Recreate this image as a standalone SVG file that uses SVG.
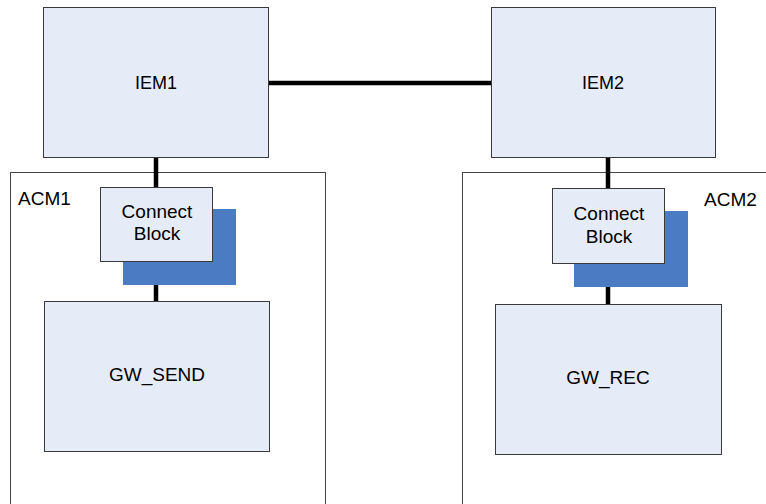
<svg xmlns="http://www.w3.org/2000/svg" width="766" height="504" viewBox="0 0 766 504">
<style>
.box{fill:#E6ECF7;stroke:#3a3a3a;stroke-width:1}
.frame{fill:#FFFFFF;stroke:#444;stroke-width:1}
.shadow{fill:#4A7BC3}
.wire{stroke:#000;stroke-width:4.5;stroke-linecap:round;fill:none}
text{font-family:"Liberation Sans",Arial,sans-serif;font-size:19px;fill:#000}
.c{text-anchor:middle}
.s{font-size:18px}
</style>
<rect width="766" height="504" fill="#FFFFFF"/>
<g id="ACM1"><rect class="frame" x="10.5" y="172.5" width="315" height="340"/><text x="18" y="205">ACM1</text></g>
<g id="ACM2"><rect class="frame" x="462.5" y="172.5" width="320" height="340"/><text x="704" y="206">ACM2</text></g>
<g id="connectors">
<line class="wire" x1="269" y1="83" x2="491" y2="83"/>
<line class="wire" x1="156" y1="158" x2="156" y2="187"/>
<line class="wire" x1="156" y1="285" x2="156" y2="301"/>
<line class="wire" x1="608" y1="158" x2="608" y2="188"/>
<line class="wire" x1="608" y1="287" x2="608" y2="304"/>
</g>
<g id="IEM1"><rect class="box" x="43.5" y="7.5" width="225" height="150"/><text class="c s" x="156" y="89">IEM1</text></g>
<g id="IEM2"><rect class="box" x="491.5" y="7.5" width="224" height="150"/><text class="c s" x="603" y="89">IEM2</text></g>
<g id="ConnectBlock1"><rect class="shadow" x="123" y="209" width="113" height="76"/><rect class="box" x="100.5" y="187.5" width="112" height="74"/><text class="c" x="157" y="218">Connect</text><text class="c" x="157" y="240">Block</text></g>
<g id="ConnectBlock2"><rect class="shadow" x="574" y="211" width="114" height="76"/><rect class="box" x="552.5" y="188.5" width="112" height="75"/><text class="c" x="609" y="220">Connect</text><text class="c" x="609" y="243">Block</text></g>
<g id="GW_SEND"><rect class="box" x="44.5" y="301.5" width="225" height="150"/><text class="c" x="157" y="381">GW_SEND</text></g>
<g id="GW_REC"><rect class="box" x="495.5" y="304.5" width="226" height="150"/><text class="c" x="608" y="384">GW_REC</text></g>
</svg>
